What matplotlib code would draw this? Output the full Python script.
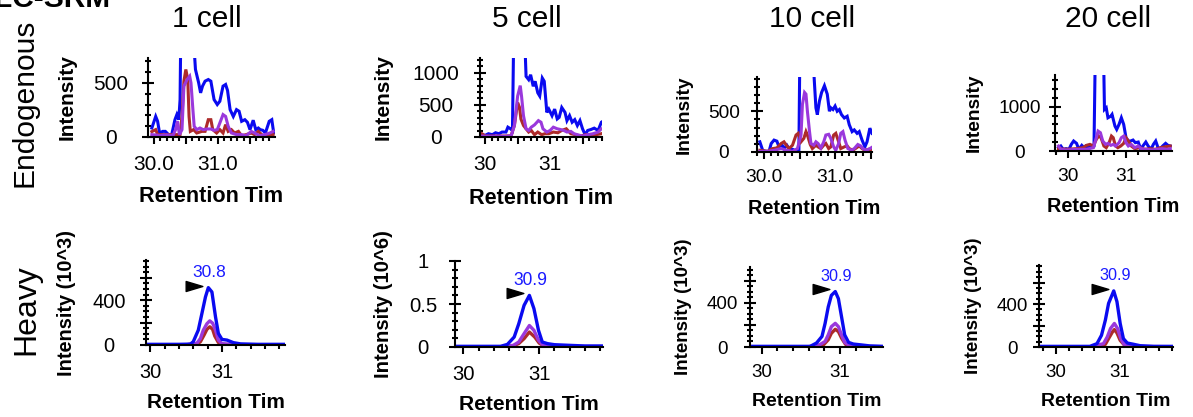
import numpy as np
import matplotlib
matplotlib.use("Agg")
import matplotlib.pyplot as plt
from matplotlib.path import Path
from matplotlib.ticker import MultipleLocator
from matplotlib.transforms import offset_copy

plt.rcParams["font.family"] = ["Liberation Sans", "DejaVu Sans"]

cells = ["1 cell", "5 cell", "10 cell", "20 cell"]
rows = ["Endogenous", "Heavy"]
apex_labels = ["30.8", "30.9", "30.9", "30.9"]

# ---- endogenous transitions (retention time in min, intensity) ----
endo1_blue_rt = [29.97, 30.03, 30.06, 30.09, 30.14, 30.18, 30.23, 30.28, 30.33, 30.36, 30.39, 30.41, 30.44, 30.50,
                 30.57, 30.62, 30.65, 30.70, 30.73, 30.76, 30.80, 30.85, 30.89, 30.94, 30.99, 31.03, 31.08, 31.12,
                 31.15, 31.19, 31.24, 31.29, 31.33, 31.37, 31.42, 31.46, 31.50, 31.55, 31.59, 31.63, 31.66, 31.70,
                 31.74, 31.80, 31.84, 31.87]
endo1_blue = [83, 190, 145, 37, 52, 52, 22, 22, 160, 207, 160, 346, 2000, 2600, 2200, 900, 624, 500, 408, 470, 516,
              531, 516, 346, 300, 330, 470, 485, 430, 253, 190, 253, 238, 145, 160, 136, 68, 155, 68, 83, 68, 62,
              37, 145, 160, 37]
endo1_red_rt = [29.97, 30.03, 30.06, 30.10, 30.20, 30.30, 30.41, 30.44, 30.47, 30.50, 30.53, 30.55, 30.57, 30.62,
                30.67, 30.75, 30.80, 30.85, 30.89, 30.92, 30.98, 31.03, 31.08, 31.12, 31.16, 31.21, 31.26, 31.32,
                31.37, 31.44, 31.52, 31.57, 31.63, 31.70, 31.78, 31.86]
endo1_red = [50, 68, 22, 22, 22, 22, 22, 190, 516, 624, 531, 190, 52, 68, 37, 52, 52, 160, 160, 68, 37, 68, 37,
             114, 52, 68, 37, 52, 12, 22, 37, 22, 52, 12, 22, 22]
endo1_purple_rt = [29.97, 30.10, 30.20, 30.30, 30.34, 30.37, 30.40, 30.44, 30.47, 30.52, 30.56, 30.58, 30.61, 30.63,
                   30.67, 30.72, 30.77, 30.83, 30.89, 30.94, 30.99, 31.04, 31.08, 31.12, 31.16, 31.21, 31.29, 31.37,
                   31.44, 31.52, 31.57, 31.65, 31.73, 31.81, 31.86]
endo1_purple = [22, 15, 20, 15, 68, 145, 22, 68, 470, 531, 562, 500, 253, 99, 68, 83, 68, 74, 74, 62, 68, 145, 207,
                190, 99, 37, 22, 22, 12, 52, 37, 12, 22, 37, 52]

endo5_blue_rt = [29.95, 30.00, 30.05, 30.11, 30.16, 30.21, 30.26, 30.32, 30.35, 30.39, 30.42, 30.45, 30.52, 30.58,
                 30.61, 30.63, 30.67, 30.70, 30.74, 30.77, 30.81, 30.84, 30.88, 30.91, 30.95, 30.98, 31.03, 31.07,
                 31.11, 31.14, 31.18, 31.23, 31.26, 31.30, 31.34, 31.38, 31.42, 31.46, 31.50, 31.54, 31.58, 31.63,
                 31.68, 31.74, 31.79, 31.83, 31.86]
endo5_blue = [36, 26, 51, 36, 66, 51, 77, 77, 153, 128, 102, 2400, 2600, 2300, 1500, 944, 893, 969, 790, 867, 689,
              638, 918, 867, 383, 434, 332, 434, 281, 306, 459, 383, 255, 332, 230, 270, 179, 255, 128, 36, 102,
              117, 138, 102, 230, 255, 204]
endo5_red_rt = [29.95, 30.00, 30.10, 30.20, 30.30, 30.40, 30.45, 30.50, 30.53, 30.55, 30.59, 30.63, 30.67, 30.71,
                30.76, 30.81, 30.87, 30.92, 30.98, 31.05, 31.12, 31.18, 31.25, 31.32, 31.39, 31.47, 31.55, 31.63,
                31.71, 31.79, 31.86]
endo5_red = [51, 15, 15, 15, 15, 20, 179, 535, 459, 281, 179, 128, 77, 102, 36, 77, 36, 51, 51, 77, 66, 102, 128,
             51, 36, 15, 36, 15, 36, 51, 77]
endo5_purple_rt = [29.95, 30.10, 30.20, 30.30, 30.40, 30.45, 30.50, 30.54, 30.56, 30.59, 30.63, 30.67, 30.71, 30.76,
                   30.82, 30.86, 30.89, 30.95, 31.00, 31.05, 31.11, 31.16, 31.21, 31.26, 31.32, 31.37, 31.42, 31.50,
                   31.58, 31.66, 31.74, 31.79, 31.84]
endo5_purple = [15, 10, 15, 10, 20, 179, 638, 800, 638, 332, 128, 102, 153, 189, 255, 230, 128, 77, 102, 153, 128,
                117, 102, 77, 87, 51, 36, 15, 36, 51, 77, 128, 138]

endo10_blue_rt = [29.94, 29.98, 30.02, 30.07, 30.10, 30.14, 30.18, 30.21, 30.25, 30.28, 30.32, 30.35, 30.40, 30.43,
                  30.49, 30.51, 30.58, 30.66, 30.71, 30.73, 30.75, 30.78, 30.81, 30.85, 30.89, 30.92, 30.94, 30.97,
                  31.00, 31.03, 31.06, 31.09, 31.13, 31.17, 31.20, 31.24, 31.27, 31.31, 31.34, 31.38, 31.42, 31.45,
                  31.49, 31.52]
endo10_blue = [125, 21, 8, 8, 104, 146, 133, 63, 92, 42, 83, 42, 33, 21, 8, 1800, 2200, 1600, 834, 542, 459, 626,
               730, 813, 709, 500, 542, 521, 563, 500, 521, 459, 417, 438, 334, 250, 271, 229, 250, 146, 63, 125,
               292, 229]
endo10_red_rt = [29.94, 30.05, 30.12, 30.18, 30.24, 30.28, 30.32, 30.35, 30.40, 30.45, 30.48, 30.52, 30.56, 30.59,
                 30.61, 30.65, 30.68, 30.73, 30.76, 30.80, 30.84, 30.87, 30.91, 30.94, 30.98, 31.01, 31.05, 31.08,
                 31.13, 31.17, 31.20, 31.25, 31.30, 31.34, 31.38, 31.42, 31.47, 31.52]
endo10_red = [21, 8, 42, 50, 104, 125, 75, 42, 83, 208, 229, 125, 167, 250, 208, 92, 42, 83, 63, 42, 83, 104, 42,
              63, 208, 229, 125, 42, 63, 75, 42, 21, 50, 75, 42, 21, 33, 21]
endo10_purple_rt = [29.94, 30.05, 30.14, 30.24, 30.32, 30.40, 30.47, 30.52, 30.54, 30.57, 30.59, 30.61, 30.64, 30.66,
                    30.70, 30.73, 30.76, 30.80, 30.84, 30.87, 30.91, 30.94, 30.98, 31.01, 31.05, 31.08, 31.11, 31.14,
                    31.18, 31.23, 31.27, 31.32, 31.36, 31.39, 31.44, 31.49, 31.53]
endo10_purple = [8, 8, 21, 42, 21, 8, 42, 208, 584, 730, 709, 500, 250, 104, 83, 125, 104, 50, 125, 208, 217, 167,
                 63, 21, 104, 229, 250, 146, 42, 21, 42, 92, 75, 42, 21, 42, 63]

endo20_blue_rt = [29.84, 29.88, 29.92, 29.97, 30.02, 30.06, 30.10, 30.15, 30.19, 30.24, 30.28, 30.31, 30.35, 30.41,
                  30.45, 30.48, 30.55, 30.61, 30.63, 30.66, 30.69, 30.74, 30.76, 30.81, 30.84, 30.88, 30.92, 30.96,
                  31.00, 31.04, 31.08, 31.12, 31.16, 31.21, 31.25, 31.29, 31.34, 31.38, 31.43, 31.47, 31.51, 31.55,
                  31.59, 31.63, 31.68, 31.72, 31.76]
endo20_blue = [75, 113, 38, 53, 38, 150, 226, 173, 38, 128, 75, 113, 75, 98, 113, 3000, 3500, 2500, 940, 978, 752,
               790, 827, 564, 489, 602, 752, 602, 301, 226, 226, 248, 188, 203, 53, 113, 203, 113, 38, 150, 226,
               75, 53, 113, 173, 128, 113]
endo20_red_rt = [29.84, 29.97, 30.15, 30.26, 30.32, 30.38, 30.44, 30.49, 30.53, 30.57, 30.62, 30.66, 30.71, 30.75,
                 30.78, 30.82, 30.86, 30.91, 30.96, 31.00, 31.04, 31.09, 31.15, 31.24, 31.32, 31.41, 31.50, 31.59,
                 31.68, 31.76]
endo20_red = [53, 38, 53, 75, 128, 150, 113, 263, 338, 301, 113, 75, 188, 338, 301, 113, 75, 113, 173, 301, 226,
              113, 53, 75, 38, 53, 38, 75, 98, 113]
endo20_purple_rt = [29.84, 29.88, 29.97, 30.15, 30.32, 30.44, 30.49, 30.52, 30.56, 30.60, 30.65, 30.69, 30.74, 30.78,
                    30.82, 30.88, 30.92, 30.96, 31.00, 31.04, 31.09, 31.15, 31.21, 31.26, 31.35, 31.44, 31.53, 31.62,
                    31.71, 31.76]
endo20_purple = [113, 38, 23, 38, 38, 75, 301, 451, 414, 226, 150, 173, 128, 150, 113, 188, 301, 338, 188, 113, 150,
                 75, 113, 53, 38, 23, 38, 53, 38, 53]

# ---- heavy (spiked) transitions ----
heavy1_blue_rt = [29.94, 30.20, 30.40, 30.56, 30.60, 30.67, 30.72, 30.77, 30.81, 30.86, 30.91, 30.95, 31.00, 31.07,
                  31.16, 31.26, 31.50, 31.88]
heavy1_blue = [6, 6, 6, 8, 30, 133, 281, 430, 513, 474, 252, 104, 50, 44, 21, 10, 6, 6]
heavy1_purple_rt = [29.94, 30.50, 30.65, 30.70, 30.74, 30.79, 30.83, 30.87, 30.91, 30.95, 31.00, 31.20, 31.88]
heavy1_purple = [0, 2, 15, 59, 133, 190, 216, 195, 133, 44, 12, 3, 2]
heavy1_red_rt = [29.94, 30.50, 30.67, 30.70, 30.75, 30.79, 30.83, 30.87, 30.90, 30.95, 31.00, 31.20, 31.88]
heavy1_red = [0, 1, 15, 30, 89, 140, 163, 140, 80, 22, 5, 2, 1]

heavy5_blue_rt = [29.89, 30.20, 30.49, 30.58, 30.67, 30.73, 30.80, 30.87, 30.93, 30.99, 31.04, 31.11, 31.20, 31.38,
                  31.60, 31.84]
heavy5_blue = [0.008, 0.008, 0.008, 0.03, 0.116, 0.27, 0.484, 0.60, 0.446, 0.194, 0.058, 0.039, 0.027, 0.02,
               0.012, 0.012]
heavy5_purple_rt = [29.89, 30.50, 30.66, 30.73, 30.80, 30.87, 30.93, 30.99, 31.04, 31.20, 31.84]
heavy5_purple = [0, 0.002, 0.02, 0.058, 0.155, 0.25, 0.194, 0.078, 0.03, 0.008, 0.005]
heavy5_red_rt = [29.89, 30.50, 30.66, 30.73, 30.80, 30.87, 30.94, 31.00, 31.06, 31.20, 31.84]
heavy5_red = [0, 0.002, 0.015, 0.04, 0.097, 0.174, 0.116, 0.045, 0.012, 0.005, 0.003]

heavy10_blue_rt = [29.85, 30.20, 30.62, 30.70, 30.77, 30.81, 30.85, 30.89, 30.94, 30.98, 31.02, 31.06, 31.11, 31.17,
                   31.26, 31.38, 31.55]
heavy10_blue = [6, 6, 6, 36, 96, 215, 364, 469, 504, 439, 275, 110, 42, 27, 20, 10, 6]
heavy10_purple_rt = [29.85, 30.60, 30.74, 30.81, 30.85, 30.89, 30.94, 30.98, 31.02, 31.06, 31.13, 31.55]
heavy10_purple = [0, 3, 20, 51, 110, 185, 215, 185, 110, 42, 8, 3]
heavy10_red_rt = [29.85, 30.60, 30.79, 30.85, 30.89, 30.94, 30.98, 31.02, 31.07, 31.13, 31.55]
heavy10_red = [0, 2, 20, 66, 125, 161, 140, 81, 25, 5, 2]

heavy20_blue_rt = [29.74, 30.20, 30.53, 30.64, 30.71, 30.77, 30.82, 30.90, 30.95, 31.00, 31.05, 31.11, 31.21, 31.31,
                   31.52, 31.82]
heavy20_blue = [6, 6, 6, 31, 109, 250, 406, 522, 422, 219, 78, 37, 25, 12, 6, 6]
heavy20_purple_rt = [29.74, 30.55, 30.74, 30.80, 30.85, 30.91, 30.96, 31.01, 31.06, 31.13, 31.82]
heavy20_purple = [0, 3, 31, 94, 172, 219, 172, 78, 25, 6, 3]
heavy20_red_rt = [29.74, 30.55, 30.77, 30.82, 30.88, 30.91, 30.95, 31.00, 31.07, 31.13, 31.82]
heavy20_red = [0, 2, 25, 78, 140, 162, 131, 62, 15, 4, 2]

BLUE, PURPLE, RED = "#0a0af0", "#9a38dc", "#ad2a2a"

endo = [
    [(endo1_blue_rt, endo1_blue, BLUE), (endo1_red_rt, endo1_red, RED), (endo1_purple_rt, endo1_purple, PURPLE)],
    [(endo5_blue_rt, endo5_blue, BLUE), (endo5_red_rt, endo5_red, RED), (endo5_purple_rt, endo5_purple, PURPLE)],
    [(endo10_blue_rt, endo10_blue, BLUE), (endo10_red_rt, endo10_red, RED), (endo10_purple_rt, endo10_purple, PURPLE)],
    [(endo20_blue_rt, endo20_blue, BLUE), (endo20_red_rt, endo20_red, RED), (endo20_purple_rt, endo20_purple, PURPLE)],
]
heavy = [
    [(heavy1_red_rt, heavy1_red, RED), (heavy1_purple_rt, heavy1_purple, PURPLE), (heavy1_blue_rt, heavy1_blue, BLUE)],
    [(heavy5_red_rt, heavy5_red, RED), (heavy5_purple_rt, heavy5_purple, PURPLE), (heavy5_blue_rt, heavy5_blue, BLUE)],
    [(heavy10_red_rt, heavy10_red, RED), (heavy10_purple_rt, heavy10_purple, PURPLE), (heavy10_blue_rt, heavy10_blue, BLUE)],
    [(heavy20_red_rt, heavy20_red, RED), (heavy20_purple_rt, heavy20_purple, PURPLE), (heavy20_blue_rt, heavy20_blue, BLUE)],
]

# layout in pixels: axes box (x0, y0, x1, y1), limits, ticks, label distances
W, H = 1193, 417
top_layout = [
    dict(box=(148, 58, 275, 137), xlim=(29.91, 31.89), ylim=(0, 730), xmaj=[30.0, 30.5, 31.0, 31.5],
         xlab=["30.0", "", "31.0", ""], xmin=0.1, ymaj=[0, 500], ylab=["0", "500"], ymin=100,
         ytl=37, yl=81, xl=60, s=1.0, ylabel="Intensity"),
    dict(box=(480, 58, 602, 137), xlim=(29.92, 31.80), ylim=(0, 1230), xmaj=[30.0, 30.5, 31.0, 31.5],
         xlab=["30", "", "31", ""], xmin=0.1, ymaj=[0, 500, 1000], ylab=["0", "500", "1000"], ymin=100,
         ytl=44, yl=97, xl=61, s=1.0, ylabel="Intensity"),
    dict(box=(757, 77, 872, 152), xlim=(29.90, 31.52), ylim=(0, 920), xmaj=[30.0, 30.5, 31.0, 31.5],
         xlab=["30.0", "", "31.0", ""], xmin=0.1, ymaj=[0, 500], ylab=["0", "500"], ymin=100,
         ytl=33, yl=73, xl=56, s=0.92, ylabel="Intensity"),
    dict(box=(1055, 75, 1172, 151), xlim=(29.78, 31.79), ylim=(0, 1720), xmaj=[30.0, 31.0],
         xlab=["30", "31"], xmin=0.2, ymaj=[0, 1000], ylab=["0", "1000"], ymin=200,
         ytl=35, yl=81, xl=56, s=0.92, ylabel="Intensity"),
]
bot_layout = [
    dict(box=(146, 260, 285, 345), xlim=(29.94, 31.88), ylim=(0, 760), xmaj=[30, 31], xlab=["30", "31"],
         xmin=0.2, ymaj=[0, 200, 400, 600], ylab=["0", "", "400", ""], ymin=50,
         ytl=37, yl=79, xl=58, s=0.96, ylabel="Intensity (10^3)"),
    dict(box=(455, 261, 603, 347), xlim=(29.89, 31.84), ylim=(0, 1.0), xmaj=[30, 31], xlab=["30", "31"],
         xmin=0.2, ymaj=[0, 0.5, 1.0], ylab=["0", "0.5", "1"], ymin=0.1,
         ytl=32, yl=72, xl=58, s=0.97, ylabel="Intensity (10^6)"),
    dict(box=(750, 267, 883, 347), xlim=(29.85, 31.55), ylim=(0, 727), xmaj=[30, 31], xlab=["30", "31"],
         xmin=0.2, ymaj=[0, 200, 400, 600], ylab=["0", "", "400", ""], ymin=50,
         ytl=28, yl=66, xl=55, s=0.9, ylabel="Intensity (10^3)"),
    dict(box=(1039, 265, 1173, 347), xlim=(29.74, 31.82), ylim=(0, 763), xmaj=[30, 31], xlab=["30", "31"],
         xmin=0.2, ymaj=[0, 200, 400, 600], ylab=["0", "", "400", ""], ymin=50,
         ytl=27, yl=65, xl=55, s=0.9, ylabel="Intensity (10^3)"),
]

fig = plt.figure(figsize=(W / 100, H / 100), dpi=100)
PT = 0.72  # points per pixel at 100 dpi
YMAJ, YMIN, XMAJ, XMIN = 9.0, 5.0, 5.0, 3.0
tri = Path([(-1, 0.6), (1, 0), (-1, -0.6), (-1, 0.6)], [Path.MOVETO, Path.LINETO, Path.LINETO, Path.CLOSEPOLY])


def make_axes(lay):
    x0, y0, x1, y1 = lay["box"]
    ax = fig.add_axes([x0 / W, 1 - y1 / H, (x1 - x0) / W, (y1 - y0) / H])
    ax.patch.set_alpha(0)
    for sp in ["top", "right"]:
        ax.spines[sp].set_visible(False)
    for sp in ["left", "bottom"]:
        ax.spines[sp].set_linewidth(1.5)
    ax.set_xlim(*lay["xlim"])
    ax.set_ylim(*lay["ylim"])
    s = lay["s"]
    fs = 15 * s
    ax.set_xticks(lay["xmaj"], lay["xlab"], fontsize=fs)
    ax.set_yticks(lay["ymaj"], lay["ylab"], fontsize=fs)
    ax.xaxis.set_minor_locator(MultipleLocator(lay["xmin"]))
    ax.yaxis.set_minor_locator(MultipleLocator(lay["ymin"]))
    ax.tick_params(axis="x", which="major", direction="out", length=XMAJ, width=1.5, pad=8 * s)
    ax.tick_params(axis="x", which="minor", direction="out", length=XMIN, width=1.5)
    ax.tick_params(axis="y", which="major", direction="inout", length=YMAJ, width=1.5,
                   pad=lay["ytl"] * PT - YMAJ / 2)
    ax.tick_params(axis="y", which="minor", direction="inout", length=YMIN, width=1.5)
    for lbl in ax.get_yticklabels():
        lbl.set_horizontalalignment("center")
    ax.set_ylabel(lay["ylabel"], fontsize=15 * s, fontweight="bold", va="center")
    ax.yaxis.set_label_coords(-lay["yl"] / (x1 - x0), 0.5)
    ax.set_xlabel("Retention Tim", fontsize=15.6 * s, fontweight="bold", va="center")
    ax.xaxis.set_label_coords(0.5, -lay["xl"] / (y1 - y0))
    return ax


for i in range(4):
    ax = make_axes(top_layout[i])
    for rt, val, col in endo[i]:
        ax.plot(rt, val, color=col, lw=2.2, solid_joinstyle="miter")

    ax = make_axes(bot_layout[i])
    for rt, val, col in heavy[i]:
        ax.plot(rt, val, color=col, lw=2.4)
    brt, bval = heavy[i][2][0], heavy[i][2][1]
    k = int(np.argmax(bval))
    ax.annotate(apex_labels[i], xy=(brt[k], bval[k]), xytext=(1, 7.5), textcoords="offset points",
                ha="center", va="baseline", color="#1a1aff", fontsize=13 * bot_layout[i]["s"])
    tr = offset_copy(ax.transData, fig=fig, x=-10, y=1.5, units="points")
    ax.plot([brt[k]], [bval[k]], marker=tri, markersize=12, color="black", transform=tr, clip_on=False)

    fig.text([207, 527, 812, 1108][i] / W, 1 - 19 / H, cells[i], ha="center", va="center", fontsize=21.5)

fig.text(25 / W, 1 - 103 / H, rows[0], rotation=90, ha="center", va="center", fontsize=21.5)
fig.text(26 / W, 1 - 310 / H, rows[1], rotation=90, ha="center", va="center", fontsize=23)
fig.text(110 / W, 1 - 7 / H, "LC-SRM", ha="right", va="baseline", fontsize=21.5, fontweight="bold")

fig.savefig("out.png", dpi=100)
